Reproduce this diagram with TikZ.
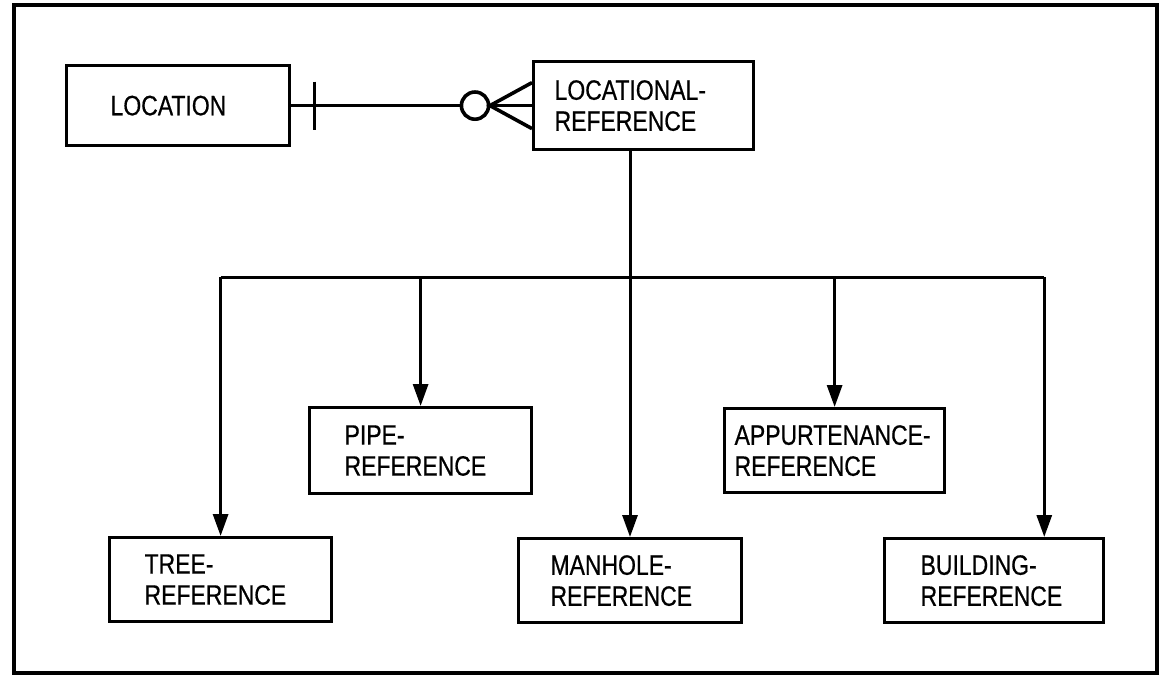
\documentclass[tikz,border=0pt]{standalone}
\usepackage{fontspec}
\setmainfont{Liberation Sans}[FakeStretch=0.82,FakeBold=0.6]
\usetikzlibrary{arrows.meta}

\begin{document}
\begin{tikzpicture}[x=0.5pt,y=-0.5pt,
   every node/.style={font=\fontsize{14pt}{15.5pt}\selectfont},
   entity/.style={draw,line width=1.6pt,anchor=north west,align=left,
     inner xsep=17.5pt,text width=76pt,minimum height=42pt},
   link/.style={line width=1.5pt},
   isa/.style={link,-{Triangle[length=11pt,width=7.5pt]}}]
\useasboundingbox (0,0) rectangle (1159,677);
\draw[line width=2.4pt] (14,5) rectangle (1157,673);

% entities
\node[entity,inner xsep=22pt,text width=67.5pt,minimum height=40pt] (loc) at (65,64) {LOCATION};
\node[entity,inner xsep=10.5pt,text width=89pt,minimum height=44pt] (locref) at (532,60) {LOCATIONAL-\\REFERENCE};
\node[entity,minimum height=43pt] (pipe) at (308,406) {PIPE-\\REFERENCE};
\node[entity,inner xsep=5pt,text width=100pt] (appur) at (723,407) {APPURTENANCE-\\REFERENCE};
\node[entity] (tree) at (108,536) {TREE-\\REFERENCE};
\node[entity,anchor=north,inner xsep=16pt,text width=79.5pt] (manhole) at (630,537) {MANHOLE-\\REFERENCE};
\node[entity,inner xsep=18pt,text width=73.5pt] (bldg) at (883,537) {BUILDING-\\REFERENCE};

% one-to-many relation
\draw[link] (loc) -- (locref);
\draw[link] ([xshift=11.5pt]loc.east) ++(0,-24) -- ++(0,48);
\draw[link,line width=1.8pt,fill=white] ([xshift=-28.5pt]locref.west) circle (6.8pt);
\draw[link,line width=1.8pt] ([yshift=11.5pt]locref.west) -- ([xshift=-21pt]locref.west)
   -- ([yshift=-11.5pt]locref.west);

% subtypes
\coordinate (bus) at (0,277);
\draw[isa] (manhole.north |- locref.south) -- (manhole.north);
\draw[link] (tree.north |- bus) -- (bldg.41 |- bus);
\draw[isa] (tree.north |- bus) -- (tree.north);
\draw[isa] (pipe.north |- bus) -- (pipe.north);
\draw[isa] (appur.north |- bus) -- (appur.north);
\draw[isa] (bldg.41 |- bus) -- (bldg.41);
\end{tikzpicture}
\end{document}
